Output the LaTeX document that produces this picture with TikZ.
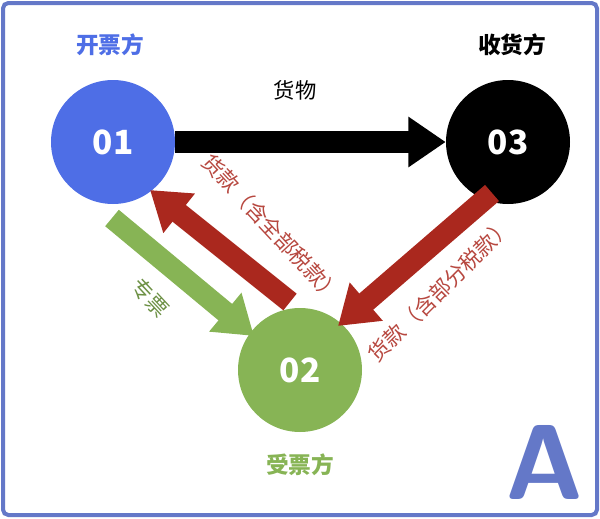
\documentclass[tikz,border=0pt]{standalone}
\usepackage{fontspec}
\setmainfont{Noto Sans CJK SC}
\usetikzlibrary{arrows.meta}
\definecolor{ablue}{RGB}{78,110,230}
\definecolor{agreen}{RGB}{135,180,85}
\definecolor{ared}{RGB}{170,40,30}
\definecolor{aframe}{RGB}{100,120,200}
\tikzset{
  party/.style={circle, minimum size=93pt, text=white, font=\bfseries\fontsize{25}{25}\selectfont},
  role/.style={font=\bfseries\fontsize{17}{17}\selectfont},
  flow/.style={line width=16pt, -{Triangle[length=28pt,width=36pt]}},
  tag/.style={font=\fontsize{16}{16}\selectfont},
}
\begin{document}
\begin{tikzpicture}[x=0.75pt, y=-0.75pt]
  \useasboundingbox (0,0) rectangle (600,518);
  \draw[aframe, line width=3pt, rounded corners=4pt] (3,3) rectangle (597,515);

  \node[party, fill=ablue] (p01) at (113,142) {01};
  \node[party, fill=black] (p03) at (508,142) {03};
  \node[party, fill=agreen] (p02) at (300,370) {02};

  \node[role, ablue] (r01) at (110,45) {开票方};
  \node[role] (r03) at (512,45) {收货方};
  \node[role, agreen] (r02) at (300,465) {受票方};
  \node[aframe, font=\sffamily\bfseries\fontsize{80}{80}\selectfont] (bigA) at (545,462) {A};

  \coordinate (g1) at (112,218);
  \coordinate (g2) at (254,336);
  \coordinate (m1) at (290,302);
  \coordinate (m2) at (150,190);
  \coordinate (k1) at (492,193);
  \coordinate (k2) at (338,326);

  \draw[flow, black] (p01) -- (p03);
  \draw[flow, agreen] (g1) -- (g2);
  \draw[flow, ared] (m1) -- (m2);
  \draw[flow, ared] (k1) -- (k2);

  \node[tag] (goods) at (295,90) {货物};
  \node[tag, agreen!80!black, rotate=-47] (ticket) at (150,298) {专票};
  \node[tag, ared!85!white, rotate=-47] (payall) at (272,228) {货款（含全部税款）};
  \node[tag, ared!85!white, rotate=45] (paypart) at (440,290) {货款（含部分税款）};
\end{tikzpicture}
\end{document}
